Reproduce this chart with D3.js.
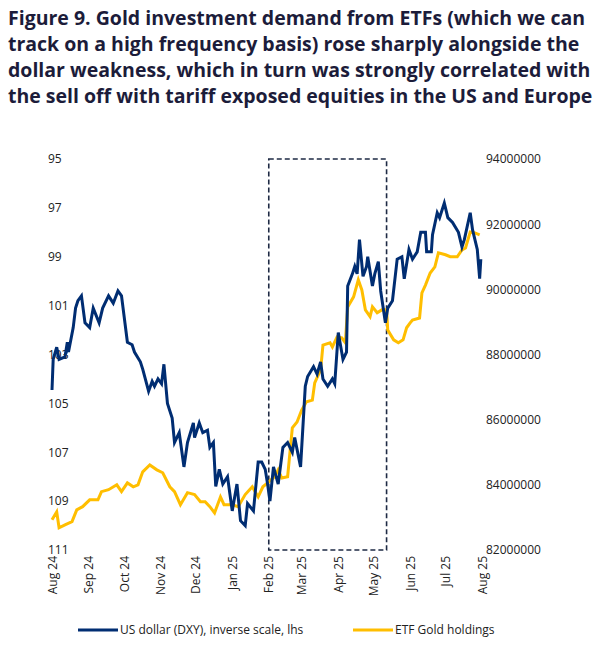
<!DOCTYPE html>
<html><head><meta charset="utf-8">
<script src="https://cdn.jsdelivr.net/npm/d3@7"></script>
<style>body{margin:0;background:#fff;font-family:"Open Sans",sans-serif}</style>
</head><body><svg id="c" width="609" height="652"></svg>
<script>
// day offsets from 1 Aug 2024
var startDate = new Date(2024, 7, 1);
var dxy = [[0,104.45],[1,103.2],[4,102.7],[6,103.2],[11,103.1],[13,102.5],[14,102.9],[18,101.9],[20,101.1],[22,100.8],[25,100.6],[28,101.7],[32,101.9],[35,101.1],[40,101.7],[43,101.1],[48,100.6],[52,100.9],[56,100.4],[59,100.6],[64,102.5],[68,102.6],[70,102.9],[75,103.3],[77,103.6],[82,104.5],[85,104.1],[87,104.3],[90,104.0],[93,104.2],[95,103.4],[98,105.0],[102,105.6],[104,106.6],[108,106.2],[112,107.6],[115,106.6],[120,105.8],[121,106.4],[125,105.8],[128,106.2],[132,106.1],[134,106.8],[137,106.6],[139,108.4],[142,107.7],[145,108.3],[149,108.0],[153,109.4],[157,108.3],[160,109.8],[164,110.0],[166,109.1],[171,109.4],[175,107.4],[178,107.4],[181,107.7],[183,108.3],[185,109.0],[188,107.6],[192,108.3],[196,106.8],[200,106.6],[204,107.0],[206,106.4],[211,107.6],[215,104.3],[217,103.9],[222,103.5],[225,103.8],[228,103.3],[230,104.0],[234,104.3],[238,104.0],[240,104.2],[243,102.1],[247,103.2],[250,102.9],[251,100.2],[255,99.7],[257,99.4],[259,99.7],[261,98.3],[264,99.8],[267,99.4],[268,99.0],[272,100.2],[274,99.7],[277,99.2],[279,100.4],[283,101.7],[285,101.1],[289,100.8],[293,99.1],[297,99.0],[299,99.9],[303,98.7],[306,99.1],[310,98.8],[313,98.0],[317,98.0],[318,98.8],[322,98.8],[323,98.1],[327,97.2],[329,97.4],[333,96.8],[336,97.4],[340,97.6],[345,98.0],[348,98.6],[350,98.3],[355,97.2],[357,97.9],[361,98.7],[363,99.9],[364,99.1]];
var etf = [[0,82.93],[4,83.17],[6,82.68],[11,82.77],[17,82.87],[21,83.23],[26,83.33],[32,83.54],[39,83.54],[42,83.79],[48,83.85],[55,84.0],[59,83.79],[64,84.06],[69,83.94],[73,84.0],[77,84.4],[83,84.61],[89,84.46],[94,84.37],[100,83.94],[104,83.79],[109,83.39],[115,83.76],[121,83.7],[126,83.48],[130,83.48],[134,83.33],[138,83.14],[143,83.63],[146,83.39],[153,83.39],[158,83.33],[164,83.7],[170,83.94],[175,83.63],[179,83.94],[183,84.06],[189,84.25],[192,84.46],[195,84.21],[200,84.25],[204,85.75],[208,85.93],[212,86.3],[216,86.55],[221,86.6],[223,87.13],[228,87.53],[230,88.29],[236,88.36],[238,88.23],[242,88.54],[246,88.51],[249,88.36],[251,89.46],[256,89.77],[260,90.29],[263,89.98],[266,89.37],[270,89.16],[272,89.46],[276,89.28],[280,89.37],[284,89.37],[285,88.75],[290,88.45],[294,88.36],[298,88.45],[301,88.82],[304,88.97],[306,89.06],[312,89.12],[314,89.89],[317,90.13],[321,90.5],[325,90.69],[328,91.12],[334,91.06],[338,91.0],[344,91.0],[348,91.21],[351,91.27],[355,91.76],[359,91.73],[363,91.67]];
var leftTicks = [95, 97, 99, 101, 103, 105, 107, 109, 111];
var rightTicks = [82000000, 84000000, 86000000, 88000000, 90000000, 92000000, 94000000];
var monthLabels = ["Aug 24","Sep 24","Oct 24","Nov 24","Dec 24","Jan 25","Feb 25","Mar 25","Apr 25","May 25","Jun 25","Jul 25","Aug 25"];
var boxRange = [new Date(2025, 1, 1), new Date(2025, 4, 12)];
var titleLines = ["Figure 9. Gold investment demand from ETFs (which we can","track on a high frequency basis) rose sharply alongside the","dollar weakness, which in turn was strongly correlated with","the sell off with tariff exposed equities in the US and Europe"];

var svg = d3.select("#c");
var navy = "#002d72", gold = "#ffbe00";
var day = function(d) { return d3.timeDay.offset(startDate, d); };

svg.selectAll(".title").data(titleLines).enter().append("text")
    .attr("x", 8).attr("y", function(d, i) { return 25 + i * 26; })
    .attr("font-size", 19.5).attr("font-weight", "bold").attr("fill", "#1c1c3a")
    .text(function(d) { return d; });

var x = d3.scaleTime().domain([startDate, new Date(2025, 7, 1)]).range([52, 482]);
var yL = d3.scaleLinear().domain([95, 111]).range([159, 550]);
var yR = d3.scaleLinear().domain([82000000, 94000000]).range([550, 159]);

svg.append("g").attr("transform", "translate(48,0)")
    .call(d3.axisLeft(yL).tickValues(leftTicks).tickSize(0))
    .call(function(g) { g.select(".domain").remove(); })
    .selectAll("text").attr("text-anchor", "start").attr("x", 0).attr("dy", "0.32em")
    .attr("font-size", 12).attr("font-family", "Open Sans").attr("fill", "#222");

svg.append("g").attr("transform", "translate(486,0)")
    .call(d3.axisRight(yR).tickValues(rightTicks).tickSize(0).tickFormat(d3.format("d")))
    .call(function(g) { g.select(".domain").remove(); })
    .selectAll("text").attr("x", 0)
    .attr("font-size", 12).attr("font-family", "Open Sans").attr("fill", "#222");

var months = d3.timeMonth.range(startDate, new Date(2025, 7, 2));
svg.append("g").attr("transform", "translate(0,556)")
    .call(d3.axisBottom(x).tickValues(months).tickSize(0).tickFormat(function(d, i) { return monthLabels[i]; }))
    .call(function(g) { g.select(".domain").remove(); })
    .selectAll("text").attr("transform", "rotate(-90)").attr("text-anchor", "end")
    .attr("x", 0).attr("y", 0).attr("dx", 0).attr("dy", "0.35em")
    .attr("font-size", 12).attr("font-family", "Open Sans").attr("fill", "#222");

svg.append("rect")
    .attr("x", x(boxRange[0])).attr("y", 159)
    .attr("width", x(boxRange[1]) - x(boxRange[0])).attr("height", 391)
    .attr("fill", "none").attr("stroke", "#1e2a44").attr("stroke-width", 1.6)
    .attr("stroke-dasharray", "5,3");

svg.append("path").datum(etf)
    .attr("fill", "none").attr("stroke", gold).attr("stroke-width", 3)
    .attr("d", d3.line().x(function(d) { return x(day(d[0])); }).y(function(d) { return yR(d[1] * 1e6); }));

svg.append("path").datum(dxy)
    .attr("fill", "none").attr("stroke", navy).attr("stroke-width", 3)
    .attr("d", d3.line().x(function(d) { return x(day(d[0])); }).y(function(d) { return yL(d[1]); }));

var legend = [["US dollar (DXY), inverse scale, lhs", navy, 78], ["ETF Gold holdings", gold, 353]];
legend.forEach(function(l) {
    svg.append("line").attr("x1", l[2]).attr("x2", l[2] + 40).attr("y1", 630).attr("y2", 630)
        .attr("stroke", l[1]).attr("stroke-width", 3);
    svg.append("text").attr("x", l[2] + 42).attr("y", 634).attr("font-size", 12)
        .attr("fill", "#222").text(l[0]);
});
</script></body></html>
